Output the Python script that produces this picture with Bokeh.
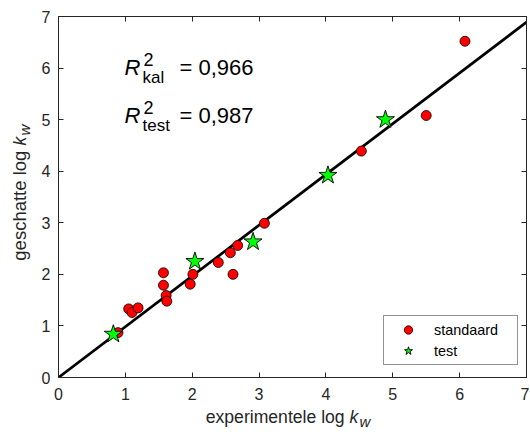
import math
from bokeh.plotting import figure
from bokeh.models import Range1d, LinearAxis, Label, Legend, LegendItem, FixedTicker
from bokeh.core.properties import value
from bokeh.embed import file_html
from bokeh.resources import INLINE

# ---- data ----
std_x = [0.89, 1.05, 1.10, 1.19, 1.57, 1.57, 1.61, 1.62, 1.97, 2.01, 2.39, 2.57, 2.61, 2.68, 3.08, 4.53, 5.50, 6.08]
std_y = [0.87, 1.33, 1.26, 1.35, 2.03, 1.79, 1.59, 1.48, 1.81, 2.00, 2.23, 2.42, 2.00, 2.56, 2.99, 4.39, 5.08, 6.52]
test_x = [0.82, 2.04, 2.91, 4.03, 4.89]
test_y = [0.84, 2.25, 2.63, 3.92, 5.00]
fit_x = [0.0, 7.0]
fit_y = [0.0, 6.89]
tick_values = [0, 1, 2, 3, 4, 5, 6, 7]
r2_kal = "0,966"
r2_test = "0,987"

FONT = "Liberation Sans"
AX = "#262626"

FL, FT, FW, FH = 58, 16, 468, 361  # frame left/top/width/height in page px
SHIFT = 7  # empirical correction of the alphabetic baseline


def dx(px):
    return (px - FL) * 7.0 / FW


def dy(py):
    return 7.0 - (py - FT) * 7.0 / FH


p = figure(frame_width=FW, frame_height=FH,
           x_range=Range1d(0, 7), y_range=Range1d(0, 7),
           output_backend="svg", toolbar_location=None,
           min_border_left=FL, min_border_top=FT,
           min_border_right=3, min_border_bottom=54,
           background_fill_color="white", border_fill_color="white")
p.grid.visible = False
p.outline_line_color = AX
p.outline_line_width = 1

ticker = FixedTicker(ticks=tick_values)
for ax in (p.xaxis[0], p.yaxis[0]):
    ax.ticker = ticker
    ax.major_tick_in = 5
    ax.major_tick_out = 0
    ax.minor_tick_line_color = None
    ax.axis_line_color = AX
    ax.major_tick_line_color = AX
    ax.major_label_text_font = FONT
    ax.major_label_text_font_size = "16px"
    ax.major_label_text_color = AX
p.xaxis[0].major_label_standoff = 10
p.yaxis[0].major_label_standoff = 8

for loc in ("above", "right"):
    a = LinearAxis(ticker=FixedTicker(ticks=tick_values), major_tick_in=5, major_tick_out=0,
                   minor_tick_line_color=None, axis_line_color=AX, major_tick_line_color=AX,
                   major_label_text_color=None, major_label_text_font_size="1px",
                   major_label_standoff=0)
    p.add_layout(a, loc)

p.line(fit_x, fit_y, line_color="black", line_width=2.7)
r_std = p.scatter(std_x, std_y, marker="circle", size=10, fill_color="#ff0000",
                  line_color="black", line_width=0.8)
r_test = p.scatter(test_x, test_y, marker="star", size=19, fill_color="#00ff00",
                   line_color="black", line_width=0.9)

legend = Legend(items=[LegendItem(label="standaard", renderers=[r_std]),
                       LegendItem(label="test", renderers=[r_test])],
                location=(325, 12), margin=0, padding=3, spacing=0,
                glyph_width=42, glyph_height=21, label_height=19, label_width=80,
                label_standoff=5, label_text_font=FONT, label_text_font_size="14.4px",
                label_text_color="black", border_line_color=AX, border_line_width=1,
                background_fill_color="white", background_fill_alpha=1.0)
p.add_layout(legend, "center")


def lab(px, py, text, size, italic=False, color="black"):
    p.add_layout(Label(x=dx(px), y=dy(py - SHIFT), text=text, text_font=FONT,
                       text_font_size=size, text_font_style="italic" if italic else "normal",
                       text_baseline="alphabetic", text_align="left", text_color=color))


def outside_text(px, py, text, size, italic=False, angle=0.0, align="left", color=AX):
    # text glyph on overlay level so that it may sit outside the frame (axis titles)
    p.text(x=[dx(px)], y=[dy(py)], text=[text], angle=angle, level="overlay",
           text_font=value(FONT), text_font_size=value(size),
           text_font_style="italic" if italic else "normal",
           text_baseline="alphabetic", text_align=align, text_color=color)


# R^2 annotations
for base, sub, val in ((74, "kal", r2_kal), (122, "test", r2_test)):
    lab(124, base, "R", "22px", italic=True)
    lab(143, base - 8, "2", "18px")
    lab(142, base + 10, sub, "17px")
    lab(179, base, "= " + val, "22px")

# x axis label: pieces joined at the start of the italic k
XJ = 349
outside_text(XJ, 423 - SHIFT, "experimentele log ", "17.6px", align="right")
outside_text(XJ, 423 - SHIFT, "k", "17.6px", italic=True)
outside_text(XJ + 10, 428 - SHIFT, "w", "15px", italic=True)

# y axis label (rotated), joined at the start of the italic k
ang = math.pi / 2
YJ = 145
outside_text(26 - SHIFT, YJ, "geschatte log ", "18.5px", angle=ang, align="right")
outside_text(26 - SHIFT, YJ, "k", "17.6px", italic=True, angle=ang)
outside_text(31 - SHIFT, YJ - 10, "w", "15px", italic=True, angle=ang)

open("out.html", "w").write(file_html(p, INLINE))
